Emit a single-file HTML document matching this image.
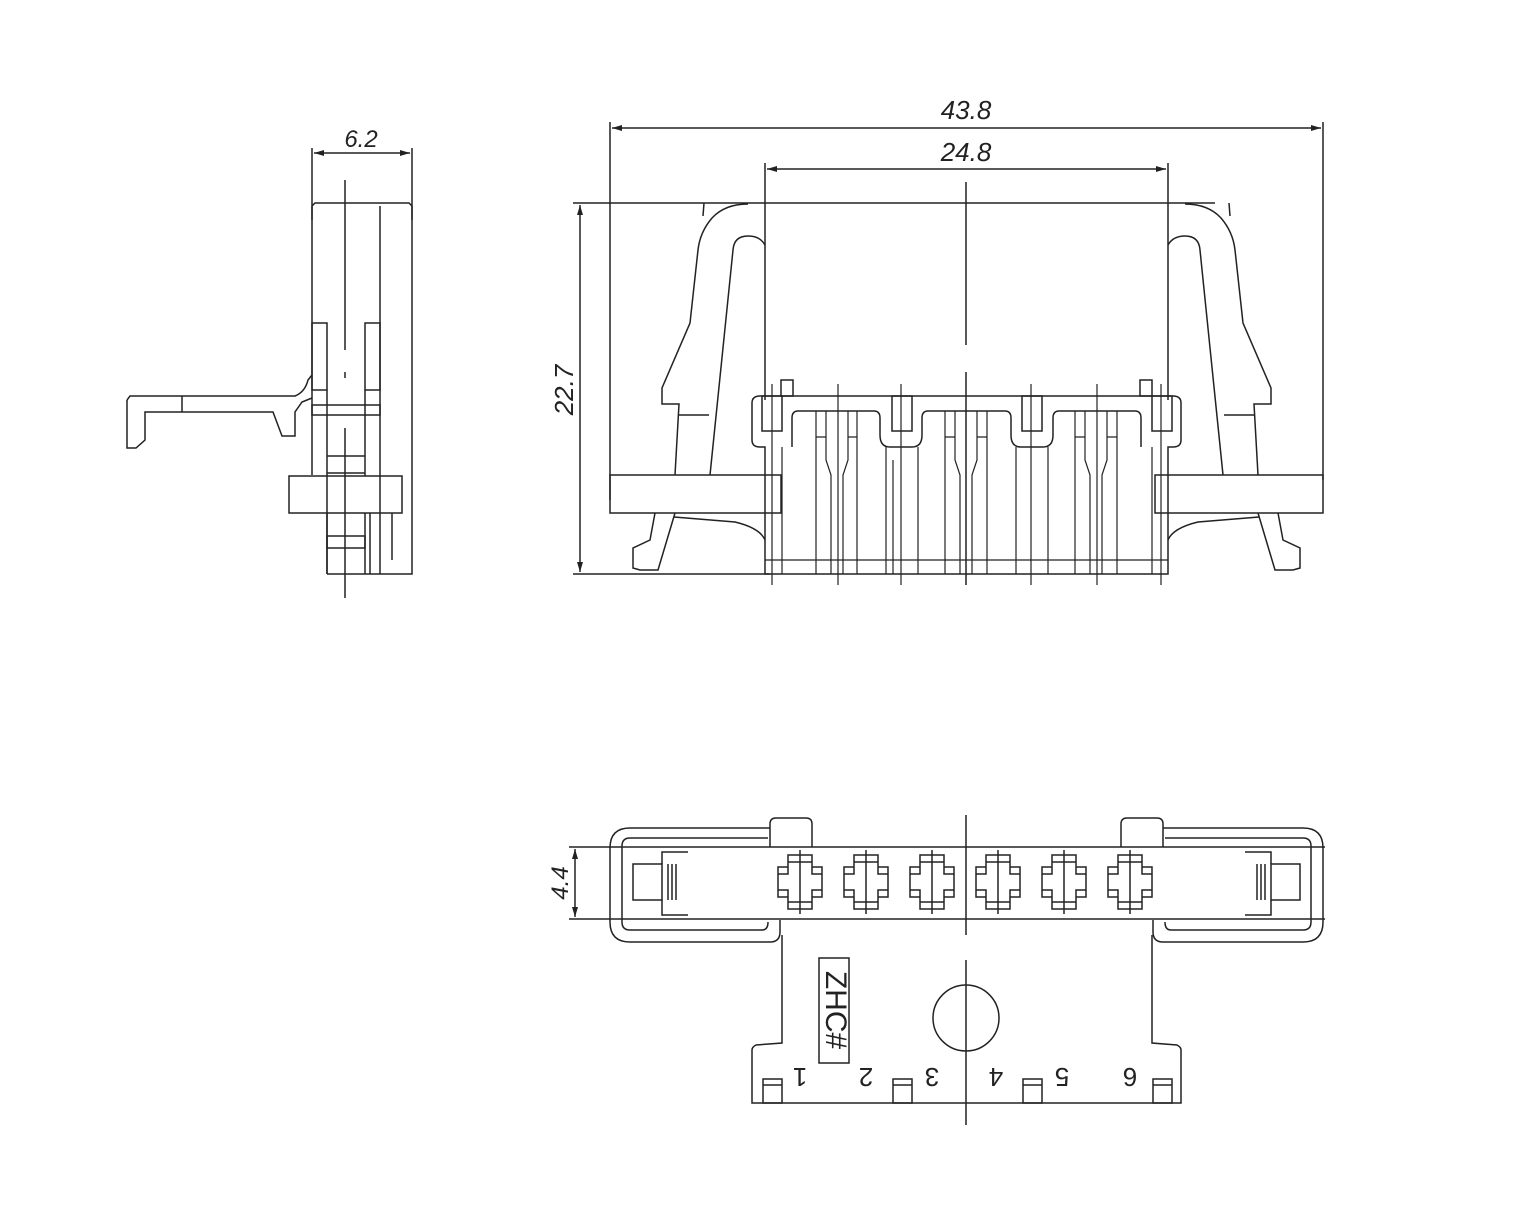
<!DOCTYPE html>
<html><head><meta charset="utf-8"><style>
html,body{margin:0;padding:0;background:#fff}
svg{display:block}
text{font-family:"Liberation Sans",sans-serif;fill:#222}
.it{font-style:italic}
</style></head><body>
<svg width="1540" height="1232" viewBox="0 0 1540 1232" xmlns="http://www.w3.org/2000/svg">
<defs><marker id="a" viewBox="0 0 10 6" refX="10" refY="3" markerWidth="10" markerHeight="4" orient="auto-start-reverse"><path d="M0,0 L10,3 L0,6z" fill="#222"/></marker>
<path id="cr" fill="none" stroke="#222" stroke-width="1.5" d="M-12,-27 L12,-27 L12,-15 L22,-15 L22,15 L12,15 L12,27 L-12,27 L-12,15 L-22,15 L-22,-15 L-12,-15 Z M-22,-8 L-12,-8 L-12,-15 M12,-15 L12,-8 L22,-8 M-22,8 L-12,8 L-12,15 M12,15 L12,8 L22,8 M-12,-20 L12,-20 M-12,20 L12,20 M0,-32 L0,32"/>
</defs>
<g fill="none" stroke="#222" stroke-width="1.5">
<!-- SIDE VIEW -->
<line x1="312" y1="148" x2="312" y2="220"/><line x1="412" y1="148" x2="412" y2="220"/>
<line x1="314" y1="153" x2="410" y2="153" marker-start="url(#a)" marker-end="url(#a)"/>
<path d="M312,206 L315,203 L409,203 L412,206 L412,574 L327,574"/>
<line x1="312" y1="206" x2="312" y2="475"/>
<line x1="380" y1="206" x2="380" y2="574"/>
<line x1="345" y1="180" x2="345" y2="350"/><line x1="345" y1="372" x2="345" y2="378"/><line x1="345" y1="428" x2="345" y2="598"/>
<rect x="312" y="323" width="15" height="67"/><rect x="365" y="323" width="15" height="67"/>
<rect x="312" y="405" width="68" height="10"/>
<line x1="327" y1="390" x2="327" y2="574"/><line x1="365" y1="390" x2="365" y2="476"/>
<line x1="327" y1="456" x2="365" y2="456"/><line x1="327" y1="473" x2="365" y2="473"/>
<rect x="289" y="476" width="113" height="37"/>
<line x1="327" y1="513" x2="327" y2="574"/><line x1="365" y1="513" x2="365" y2="574"/>
<rect x="327" y="536" width="38" height="12"/><line x1="370" y1="513" x2="370" y2="574"/><line x1="392" y1="513" x2="392" y2="560"/>
<path d="M127,400 L130,396 L295,396 Q305,392 308,380 L312,375"/>
<path d="M127,400 L127,448 L136,448 L145,440 L145,412 L273,412 L282,436 L295,436 L295,412 L302,402 L312,398"/>
<line x1="182" y1="396" x2="182" y2="412"/>
<!-- MAIN VIEW dims -->
<line x1="610" y1="122" x2="610" y2="500"/><line x1="1323" y1="122" x2="1323" y2="480"/>
<line x1="612" y1="128" x2="1321" y2="128" marker-start="url(#a)" marker-end="url(#a)"/>
<line x1="765" y1="163" x2="765" y2="400"/><line x1="1168" y1="163" x2="1168" y2="400"/>
<line x1="767" y1="169" x2="1166" y2="169" marker-start="url(#a)" marker-end="url(#a)"/>
<line x1="573" y1="203" x2="1215" y2="203"/><line x1="573" y1="574" x2="770" y2="574"/>
<line x1="580" y1="205" x2="580" y2="572" marker-start="url(#a)" marker-end="url(#a)"/>
<line x1="966" y1="182" x2="966" y2="345"/><line x1="966" y1="372" x2="966" y2="585"/>
<rect x="610" y="475" width="171" height="38"/><rect x="1155" y="475" width="168" height="38"/>
<path d="M765,574 L765,447 L760,447 Q752,447 752,440 L752,403 Q752,396 760,396 L1173,396 Q1181,396 1181,403 L1181,440 Q1181,447 1173,447 L1168,447 L1168,574 Z"/>
<path d="M792,447 L792,418 Q792,411 798,411 L874,411 Q880,411 880,418 L880,435 Q880,447 890,447 L912,447 Q922,447 922,435 L922,418 Q922,411 928,411 L1005,411 Q1011,411 1011,418 L1011,435 Q1011,447 1021,447 L1043,447 Q1053,447 1053,435 L1053,418 Q1053,411 1059,411 L1135,411 Q1141,411 1141,418 L1141,447"/>
<rect x="762" y="396" width="20" height="35"/><rect x="892" y="396" width="20" height="35"/><rect x="1022" y="396" width="20" height="35"/><rect x="1152" y="396" width="20" height="35"/>
<rect x="781" y="380" width="12" height="16"/><rect x="1140" y="380" width="12" height="16"/>
<g stroke-width="1.2">
<line x1="772" y1="384" x2="772" y2="585"/><line x1="838" y1="384" x2="838" y2="585"/><line x1="901" y1="384" x2="901" y2="585"/><line x1="1031" y1="384" x2="1031" y2="585"/><line x1="1097" y1="384" x2="1097" y2="585"/><line x1="1161" y1="384" x2="1161" y2="585"/>
<line x1="782" y1="447" x2="782" y2="574"/><line x1="1152" y1="447" x2="1152" y2="574"/>
<path d="M816,411 L816,437 L826,437 L826,411 M848,411 L848,437 L857,437 L857,411 M826,437 L826,460 L831,475 L831,574 M848,437 L848,460 L843,475 L843,574 M816,437 L816,574 M857,437 L857,574"/>
<path d="M945,411 L945,437 L955,437 L955,411 M977,411 L977,437 L987,437 L987,411 M955,437 L955,460 L960,475 L960,574 M977,437 L977,460 L972,475 L972,574 M945,437 L945,574 M987,437 L987,574"/>
<path d="M1075,411 L1075,437 L1085,437 L1085,411 M1107,411 L1107,437 L1117,437 L1117,411 M1085,437 L1085,460 L1090,475 L1090,574 M1107,437 L1107,460 L1102,475 L1102,574 M1075,437 L1075,574 M1117,437 L1117,574"/>
<path d="M886,447 L886,574 M893,460 L893,574 M918,447 L918,574 M1016,447 L1016,574 M1048,447 L1048,574"/>
<line x1="765" y1="560" x2="1168" y2="560"/>
</g>
<path d="M748,204 Q725,204 712,218 Q700,232 698,250 L690,323 L662,388 L662,404 L679,404 L675,475"/>
<path d="M765,245 Q760,236 748,236 Q734,236 733,250 L710,475"/>
<line x1="679" y1="415" x2="709" y2="415"/>
<line x1="704" y1="203" x2="703" y2="216"/>
<path d="M655,513 L650,540 L633,548 L633,568 L640,570 L658,570 L675,513"/>
<path d="M674,517 L735,522 Q760,528 765,540"/>
<path d="M1185,204 Q1208,204 1221,218 Q1233,232 1235,250 L1243,323 L1271,388 L1271,404 L1254,404 L1258,475"/>
<path d="M1168,245 Q1173,236 1185,236 Q1199,236 1200,250 L1223,475"/>
<line x1="1254" y1="415" x2="1224" y2="415"/>
<line x1="1229" y1="203" x2="1230" y2="216"/>
<path d="M1278,513 L1283,540 L1300,548 L1300,568 L1293,570 L1275,570 L1258,513"/>
<path d="M1259,517 L1198,522 Q1173,528 1168,540"/>
<!-- BOTTOM VIEW -->
<line x1="569" y1="847" x2="1325" y2="847"/><line x1="569" y1="919" x2="1325" y2="919"/>
<line x1="575" y1="849" x2="575" y2="917" marker-start="url(#a)" marker-end="url(#a)"/>
<line x1="966" y1="815" x2="966" y2="935"/><line x1="966" y1="960" x2="966" y2="1125"/>
<path d="M770,828 L630,828 Q610,828 610,848 L610,922 Q610,942 630,942 L770,942 Q780,942 780,932 L780,920"/>
<path d="M768,838 L630,838 Q622,838 622,846 L622,922 Q622,930 630,930 L762,930 Q768,930 768,922"/>
<path d="M1163,828 L1303,828 Q1323,828 1323,848 L1323,922 Q1323,942 1303,942 L1163,942 Q1153,942 1153,932 L1153,920"/>
<path d="M1165,838 L1303,838 Q1311,838 1311,846 L1311,922 Q1311,930 1303,930 L1171,930 Q1165,930 1165,922"/>
<path d="M770,847 L770,824 Q770,818 776,818 L806,818 Q812,818 812,824 L812,847"/>
<path d="M1121,847 L1121,824 Q1121,818 1127,818 L1157,818 Q1163,818 1163,824 L1163,847"/>
<rect x="633" y="864" width="29" height="36"/><path d="M662,864 L662,852 L688,852 M662,900 L662,915 L688,915 M668,864 L668,900 M672,864 L672,900 M676,864 L676,900"/>
<rect x="1271" y="864" width="29" height="36"/><path d="M1271,864 L1271,852 L1245,852 M1271,900 L1271,915 L1245,915 M1265,864 L1265,900 M1261,864 L1261,900 M1257,864 L1257,900"/>
<path d="M782,935 L782,1043 L756,1045 Q752,1047 752,1050 L752,1103 L1181,1103 L1181,1050 Q1181,1047 1177,1045 L1152,1043 L1152,935"/>
<circle cx="966" cy="1018" r="33"/>
<rect x="819" y="958" width="30" height="105"/>
<rect x="763" y="1079" width="19" height="24"/><rect x="893" y="1079" width="19" height="24"/><rect x="1023" y="1079" width="19" height="24"/><rect x="1153" y="1079" width="19" height="24"/>
<line x1="763" y1="1085" x2="782" y2="1085"/><line x1="893" y1="1085" x2="912" y2="1085"/><line x1="1023" y1="1085" x2="1042" y2="1085"/><line x1="1153" y1="1085" x2="1172" y2="1085"/>
</g>
<use href="#cr" x="800" y="882"/><use href="#cr" x="866" y="882"/><use href="#cr" x="932" y="882"/><use href="#cr" x="998" y="882"/><use href="#cr" x="1064" y="882"/><use href="#cr" x="1130" y="882"/>
<text class="it" x="361" y="147" font-size="24" text-anchor="middle">6.2</text>
<text class="it" x="966" y="119" font-size="26" text-anchor="middle">43.8</text>
<text class="it" x="966" y="161" font-size="26" text-anchor="middle">24.8</text>
<text class="it" transform="translate(573,390) rotate(-90)" font-size="26" text-anchor="middle">22.7</text>
<text class="it" transform="translate(568,883) rotate(-90)" font-size="24" text-anchor="middle">4.4</text>
<text transform="translate(834,1010) rotate(90)" font-size="30" text-anchor="middle" dominant-baseline="middle">ZHC#</text>
<g font-size="26" text-anchor="middle">
<text transform="translate(800,1068) rotate(180)">1</text>
<text transform="translate(866,1068) rotate(180)">2</text>
<text transform="translate(932,1068) rotate(180)">3</text>
<text transform="translate(996,1068) rotate(180)">4</text>
<text transform="translate(1062,1068) rotate(180)">5</text>
<text transform="translate(1130,1068) rotate(180)">6</text>
</g>
</svg>
</body></html>
